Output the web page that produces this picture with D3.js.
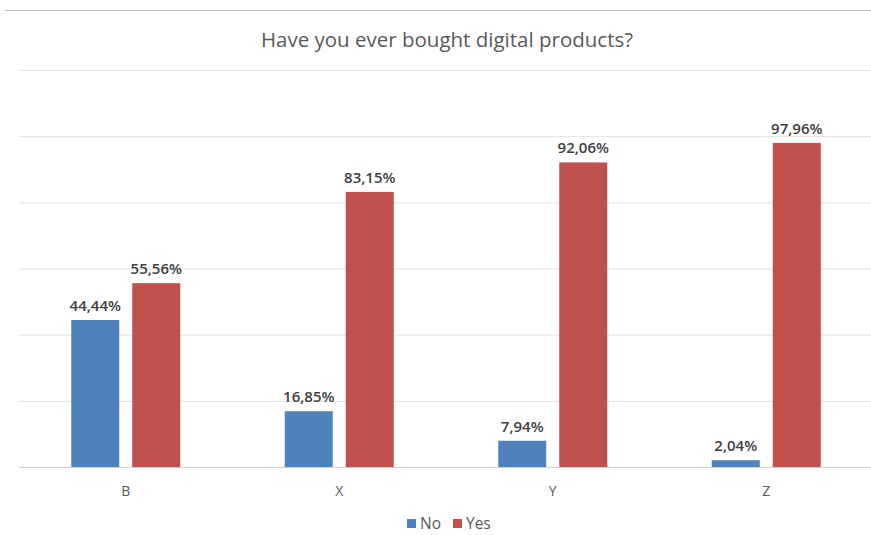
<!DOCTYPE html>
<html>
<head>
<meta charset="utf-8">
<script src="https://cdn.jsdelivr.net/npm/d3@7"></script>
<style>
  html, body { margin: 0; padding: 0; background: #fff; }
  svg { display: block; font-family: "Open Sans", Lato, sans-serif; }
</style>
</head>
<body>
<svg id="chart" width="871" height="535"></svg>
<script>
const categories = ["B", "X", "Y", "Z"];
const seriesNames = ["No", "Yes"];
const noValues = [44.44, 16.85, 7.94, 2.04];
const yesValues = [55.56, 83.15, 92.06, 97.96];
const yTicks = [0, 20, 40, 60, 80, 100, 120];
const colors = ["#4F81BD", "#C0504D"];

const svg = d3.select("#chart");
const W = 871, H = 535;
const plot = { left: 19, right: 873, top: 70, bottom: 467 };

// top frame line
svg.append("line")
  .attr("x1", 5).attr("x2", W).attr("y1", 10.5).attr("y2", 10.5)
  .attr("stroke", "#bfbfbf").attr("stroke-width", 1);

svg.append("text")
  .attr("x", 447).attr("y", 47)
  .attr("text-anchor", "middle")
  .attr("font-size", 20.5)
  .attr("fill", "#595959")
  .text("Have you ever bought digital products?");

const y = d3.scaleLinear().domain([0, 120]).range([plot.bottom, plot.top]);
const x = d3.scaleBand().domain(categories).range([plot.left, plot.right]).paddingInner(0).paddingOuter(0);

// gridlines
const grid = d3.axisLeft(y).tickValues(yTicks).tickSize(-(W - plot.left)).tickFormat("");
const gg = svg.append("g").attr("transform", `translate(${plot.left},0)`).call(grid);
gg.select(".domain").remove();
gg.selectAll(".tick line").attr("stroke-width", 1)
  .attr("stroke", (d) => d === 0 ? "#d0d0d0" : "#e3e3e3");

const data = categories.map((c, i) => ({ cat: c, vals: [noValues[i], yesValues[i]] }));

const groups = svg.append("g").selectAll("g").data(data).join("g")
  .attr("transform", d => `translate(${x(d.cat) + x.bandwidth() / 2 - 54.5},0)`);

const barW = 48;
groups.selectAll("rect").data(d => d.vals.map((v, j) => ({ v, j }))).join("rect")
  .attr("x", d => d.j * 61)
  .attr("width", barW)
  .attr("y", d => y(d.v))
  .attr("height", d => y(0) - y(d.v))
  .attr("fill", d => colors[d.j]);

const fmt = v => v.toFixed(2).replace(".", ",") + "%";
groups.selectAll("text").data(d => d.vals.map((v, j) => ({ v, j }))).join("text")
  .attr("x", d => d.j * 61 + barW / 2)
  .attr("y", d => y(d.v) - 9)
  .attr("text-anchor", "middle")
  .attr("font-size", 15)
  .attr("font-weight", 600)
  .attr("fill", "#404040")
  .text(d => fmt(d.v));

// category axis labels
const xa = svg.append("g").attr("transform", `translate(0,${plot.bottom})`)
  .call(d3.axisBottom(x).tickSize(0).tickPadding(19));
xa.select(".domain").remove();
xa.selectAll("text").attr("font-size", 14).attr("fill", "#595959")
  .attr("font-family", "\"Open Sans\", Lato, sans-serif");

// legend
const legend = svg.append("g");
const legendItems = [{ name: "No", x: 407 }, { name: "Yes", x: 453 }];
legendItems.forEach((it, i) => {
  legend.append("rect").attr("x", it.x).attr("y", 519).attr("width", 9).attr("height", 9).attr("fill", colors[i]);
  legend.append("text").attr("x", it.x + 13).attr("y", 529)
    .attr("font-size", 15.5).attr("fill", "#595959").text(it.name);
});
</script>
</body>
</html>
